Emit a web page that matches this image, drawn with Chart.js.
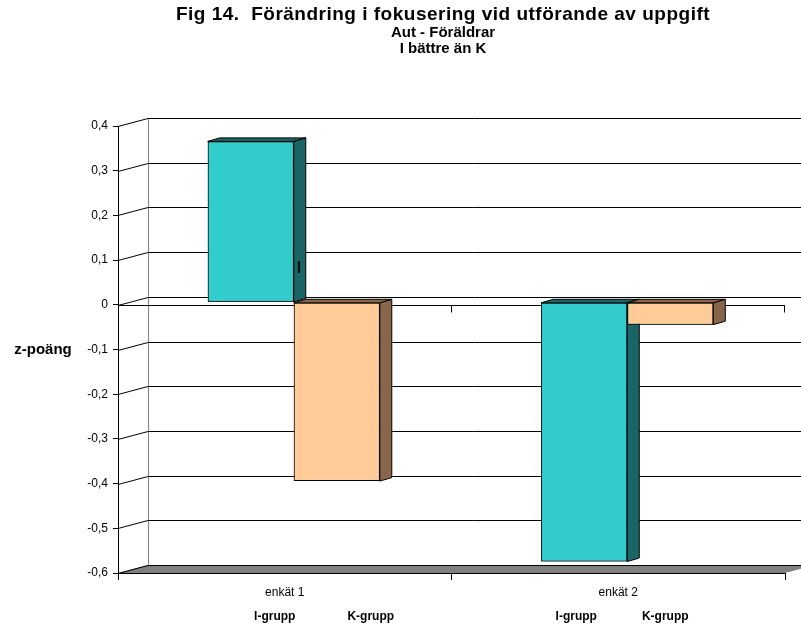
<!DOCTYPE html>
<html>
<head>
<meta charset="utf-8">
<title>Fig 14</title>
<script src="https://cdn.jsdelivr.net/npm/chart.js@4.4.1/dist/chart.umd.min.js"></script>
<style>
  html, body { margin: 0; padding: 0; background: #fff; }
  #fig14 { display: block; }
</style>
</head>
<body>
<canvas id="fig14" width="801" height="627"></canvas>
<script>
// z-scores per survey round
const categories = ['enkät 1', 'enkät 2'];
const seriesNames = ['I-grupp', 'K-grupp'];
const iGrupp = [0.36, -0.58];
const kGrupp = [-0.40, -0.05];
const yTicks = [-0.6, -0.5, -0.4, -0.3, -0.2, -0.1, 0, 0.1, 0.2, 0.3, 0.4];
const yTickLabels = ['-0,6', '-0,5', '-0,4', '-0,3', '-0,2', '-0,1', '0', '0,1', '0,2', '0,3', '0,4'];
const titleLines = ['Fig 14.  Förändring i fokusering vid utförande av uppgift', 'Aut - Föräldrar', 'I bättre än K'];
const yTitle = 'z-poäng';

// fake 3D: wall depth, bar front offset, bar depth
const WALL = { dx: 30, dy: -8 };
const SHIFT = { dx: 9, dy: -2.5 };
const DEPTH = { dx: 12, dy: -3.5 };
const faceColors = ['#33cccc', '#ffcc99'];
const sideColors = ['#1a6666', '#876649'];

function poly(ctx, pts, fill, stroke) {
    ctx.beginPath();
    ctx.moveTo(pts[0][0], pts[0][1]);
    for (let i = 1; i < pts.length; i++) ctx.lineTo(pts[i][0], pts[i][1]);
    ctx.closePath();
    if (fill) { ctx.fillStyle = fill; ctx.fill(); }
    if (stroke) { ctx.strokeStyle = stroke; ctx.lineWidth = 1; ctx.stroke(); }
}

const excel3d = {
    id: 'excel3d',
    beforeDraw(chart) {
        const { ctx, chartArea: a, scales: { x, y } } = chart;
        ctx.save();
        ctx.fillStyle = '#fff';
        ctx.fillRect(0, 0, chart.width, chart.height);

        // floor
        poly(ctx, [[a.left, a.bottom], [a.left + WALL.dx, a.bottom + WALL.dy],
                   [a.right + WALL.dx, a.bottom + WALL.dy], [a.right, a.bottom]], '#808080');

        // back edge of the side wall
        const wx = a.left + WALL.dx + 0.5;
        ctx.strokeStyle = '#808080';
        ctx.lineWidth = 1;
        ctx.beginPath();
        ctx.moveTo(wx, Math.round(a.top) + WALL.dy);
        ctx.lineTo(wx, Math.round(a.bottom) + WALL.dy);
        ctx.stroke();

        // gridlines on side wall and back wall
        ctx.strokeStyle = '#000';
        yTicks.forEach(v => {
            const py = Math.round(y.getPixelForValue(v)) + 0.5;
            ctx.beginPath();
            ctx.moveTo(a.left, py);
            ctx.lineTo(a.left + WALL.dx, py + WALL.dy);
            ctx.lineTo(chart.width, py + WALL.dy);
            ctx.stroke();
        });

        // category axis line at zero with its ticks
        const y0 = Math.round(y.getPixelForValue(0)) + 0.5;
        const cw = x.width / categories.length;
        ctx.beginPath();
        ctx.moveTo(a.left, y0);
        ctx.lineTo(a.right, y0);
        for (let k = 1; k <= categories.length; k++) {
            const tx = Math.round(a.left + k * cw) - 0.5;
            ctx.moveTo(tx, y0);
            ctx.lineTo(tx, y0 + 7);
        }
        ctx.stroke();
        ctx.restore();
    },
    beforeDatasetsDraw(chart) {
        chart.ctx.save();
        chart.ctx.translate(SHIFT.dx, SHIFT.dy);
    },
    afterDatasetsDraw(chart) {
        const ctx = chart.ctx;
        chart.data.datasets.forEach((ds, d) => {
            chart.getDatasetMeta(d).data.forEach(el => {
                const p = el.getProps(['x', 'y', 'base', 'width'], true);
                const l = p.x - p.width / 2, r = p.x + p.width / 2;
                const t = Math.min(p.y, p.base), b = Math.max(p.y, p.base);
                poly(ctx, [[r, t], [r + DEPTH.dx, t + DEPTH.dy], [r + DEPTH.dx, b + DEPTH.dy], [r, b]], sideColors[d], '#000');
                poly(ctx, [[l, t], [l + DEPTH.dx, t + DEPTH.dy], [r + DEPTH.dx, t + DEPTH.dy], [r, t]], sideColors[d], '#000');
                el.draw(ctx);
            });
        });
        ctx.restore();
    },
    afterDraw(chart) {
        const { ctx, scales: { x } } = chart;
        ctx.save();
        ctx.fillStyle = '#000';
        ctx.textAlign = 'center';
        ctx.textBaseline = 'middle';

        // first title line is set larger than the two below it
        ctx.font = 'bold 19px Arial, "Liberation Sans", sans-serif';
        ctx.letterSpacing = '0.5px';
        ctx.fillText(titleLines[0], 443, 15);
        ctx.letterSpacing = '0px';
        ctx.font = 'bold 15px Arial, "Liberation Sans", sans-serif';
        ctx.fillText(titleLines[1], 443, 33);
        ctx.fillText(titleLines[2], 443, 49);

        ctx.fillText(yTitle, 43, 350);

        // group names under each survey
        ctx.font = 'bold 12px Arial, "Liberation Sans", sans-serif';
        const nameX = [[-10, 86], [-42, 47]];
        categories.forEach((c, i) => {
            const cx = x.getPixelForValue(i);
            seriesNames.forEach((s, j) => ctx.fillText(s, cx + nameX[i][j], 617));
        });

        // stray mark on the first column's side
        ctx.font = 'bold 16px Arial, "Liberation Sans", sans-serif';
        ctx.fillStyle = '#111';
        ctx.fillText('I', 299, 269);
        ctx.restore();
    }
};

new Chart(document.getElementById('fig14'), {
    type: 'bar',
    data: {
        labels: categories,
        datasets: [
            { label: seriesNames[0], data: iGrupp, backgroundColor: faceColors[0] },
            { label: seriesNames[1], data: kGrupp, backgroundColor: faceColors[1] }
        ]
    },
    options: {
        responsive: false,
        animation: false,
        devicePixelRatio: 1,
        layout: { padding: { top: 126, right: 16, bottom: 0, left: 0 } },
        datasets: {
            bar: {
                borderColor: '#000',
                borderWidth: 1,
                borderSkipped: false,
                barPercentage: 1,
                categoryPercentage: 0.516
            }
        },
        plugins: {
            legend: { display: false },
            tooltip: { enabled: false },
            title: { display: false }
        },
        scales: {
            x: {
                grid: { drawOnChartArea: false, tickLength: 7, color: '#000', offset: true },
                border: { color: '#000', width: 1 },
                ticks: {
                    color: '#000',
                    padding: 5,
                    font: { family: 'Arial, "Liberation Sans", sans-serif', size: 12 }
                },
                afterFit(s) { s.height = 54; }
            },
            y: {
                min: -0.6,
                max: 0.4,
                grid: { drawOnChartArea: false, tickLength: 5, color: '#000' },
                border: { color: '#000', width: 1 },
                afterBuildTicks(s) { s.ticks = yTicks.map(v => ({ value: v })); },
                ticks: {
                    color: '#000',
                    padding: 5,
                    font: { family: 'Arial, "Liberation Sans", sans-serif', size: 12 },
                    callback: (v, i) => yTickLabels[i]
                },
                afterFit(s) { s.width = 118; }
            }
        }
    },
    plugins: [excel3d]
});
</script>
</body>
</html>
